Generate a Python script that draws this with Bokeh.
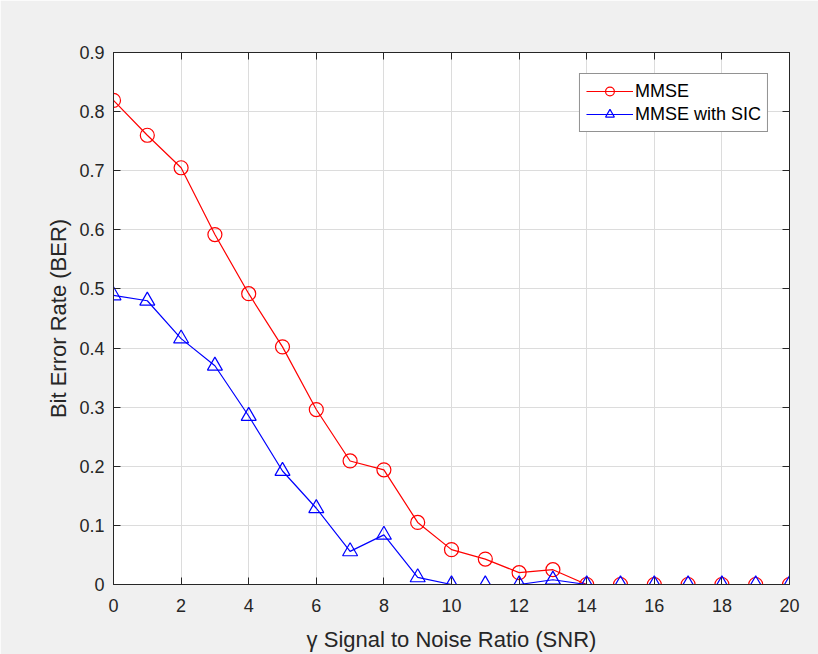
from bokeh.plotting import figure
from bokeh.models import FixedTicker, LinearAxis, Range1d
from bokeh.embed import file_html
from bokeh.resources import INLINE

snr = list(range(0, 21))
ber_mmse = [0.819, 0.760, 0.705, 0.592, 0.492, 0.402, 0.296, 0.209, 0.194, 0.105,
            0.059, 0.043, 0.020, 0.025, 0.0, 0.0, 0.0, 0.0, 0.0, 0.0, 0.0]
ber_sic = [0.489, 0.480, 0.416, 0.370, 0.285, 0.192, 0.129, 0.056, 0.084, 0.012,
           0.0, 0.0, 0.0, 0.008, 0.0, 0.0, 0.0, 0.0, 0.0, 0.0, 0.0]

x_ticks = [0, 2, 4, 6, 8, 10, 12, 14, 16, 18, 20]
y_ticks = [0, 0.1, 0.2, 0.3, 0.4, 0.5, 0.6, 0.7, 0.8, 0.9]
y_tick_labels = ["0", "0.1", "0.2", "0.3", "0.4", "0.5", "0.6", "0.7", "0.8", "0.9"]

FONT = "Liberation Sans"
AX = "#262626"

p = figure(width=818, height=654, output_backend="svg", toolbar_location=None,
           x_range=Range1d(0, 20), y_range=Range1d(0, 0.9),
           min_border_left=113, min_border_top=52, min_border_right=29, min_border_bottom=69,
           background_fill_color="white", border_fill_color="#f0f0f0")
p.outline_line_color = AX
p.outline_line_width = 1

for ax in (p.xaxis[0], p.yaxis[0]):
    ax.axis_line_color = AX
    ax.major_tick_line_color = AX
    ax.major_tick_in = 7
    ax.major_tick_out = 0
    ax.minor_tick_line_color = None
    ax.major_label_text_font = FONT
    ax.major_label_text_font_size = "18px"
    ax.major_label_text_color = AX
    ax.axis_label_text_font = FONT
    ax.axis_label_text_font_size = "22px"
    ax.axis_label_text_font_style = "normal"
    ax.axis_label_text_color = AX

p.xaxis.ticker = FixedTicker(ticks=x_ticks)
p.yaxis.ticker = FixedTicker(ticks=y_ticks)
p.yaxis.major_label_overrides = dict(zip(y_ticks, y_tick_labels))
p.xaxis.major_label_standoff = 14
p.yaxis.major_label_standoff = 9
p.xaxis.axis_label = "γ Signal to Noise Ratio (SNR)"
p.yaxis.axis_label = "Bit Error Rate (BER)"
p.xaxis.axis_label_standoff = 12
p.yaxis.axis_label_standoff = 5

top = LinearAxis(ticker=FixedTicker(ticks=x_ticks), major_label_text_color=None,
                 axis_line_color=AX, major_tick_line_color=AX, major_tick_in=7,
                 major_tick_out=0, minor_tick_line_color=None)
right = LinearAxis(ticker=FixedTicker(ticks=y_ticks), major_label_text_color=None,
                   axis_line_color=AX, major_tick_line_color=AX, major_tick_in=7,
                   major_tick_out=0, minor_tick_line_color=None)
p.add_layout(top, "above")
p.add_layout(right, "right")

p.xgrid.ticker = FixedTicker(ticks=x_ticks)
p.ygrid.ticker = FixedTicker(ticks=y_ticks)
p.grid.grid_line_color = "#dcdcdc"
p.grid.grid_line_width = 1

p.line(snr, ber_mmse, line_color="#ff0000", line_width=1.2, legend_label="MMSE")
p.scatter(snr, ber_mmse, marker="circle", size=14, line_color="#ff0000", line_width=1.2,
          fill_color=None, legend_label="MMSE")
p.line(snr, ber_sic, line_color="#0000ff", line_width=1.2, legend_label="MMSE with SIC")
p.scatter(snr, ber_sic, marker="triangle", size=15, line_color="#0000ff", line_width=1.2,
          fill_color=None, legend_label="MMSE with SIC")

lg = p.legend[0]
lg.location = "top_right"
lg.margin = 21
lg.padding = 6
lg.spacing = 1
lg.glyph_width = 47
lg.glyph_height = 22
lg.label_height = 22
lg.label_standoff = 2
lg.label_text_font = FONT
lg.label_text_font_size = "18px"
lg.label_text_color = "#000000"
lg.border_line_color = AX
lg.border_line_width = 1
lg.background_fill_color = "white"
lg.background_fill_alpha = 1

open("out.html", "w").write(file_html(p, INLINE))
